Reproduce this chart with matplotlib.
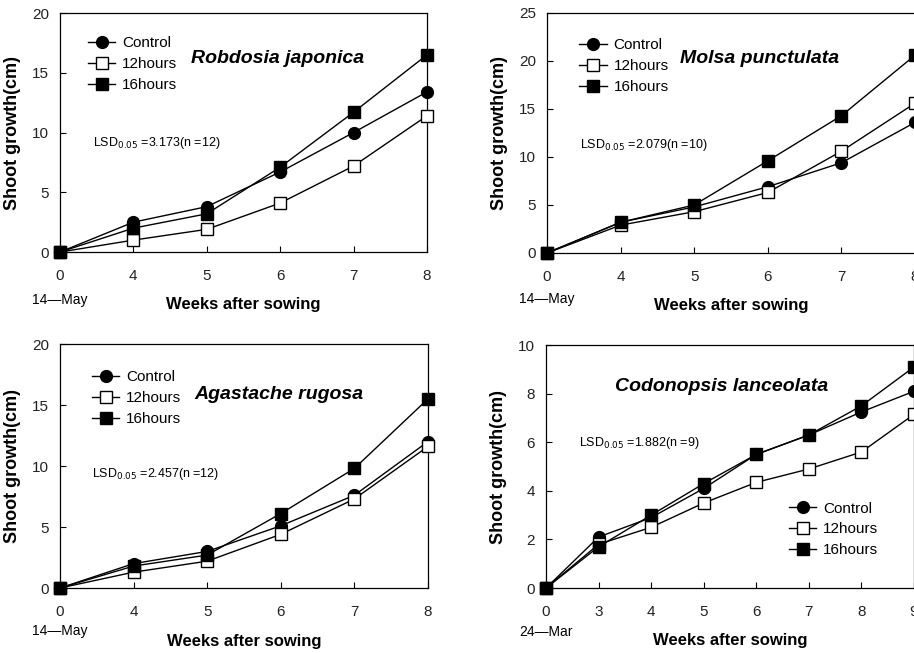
import matplotlib.pyplot as plt

plt.rcParams['font.family'] = ['Liberation Sans', 'DejaVu Sans']

# panel 1: Robdosia japonica
weeks_a = ['0', '4', '5', '6', '7', '8']
rj_control = [0, 2.5, 3.8, 6.7, 10.0, 13.4]
rj_12h = [0, 1.0, 1.9, 4.1, 7.2, 11.4]
rj_16h = [0, 2.0, 3.2, 7.1, 11.7, 16.5]

# panel 2: Molsa punctulata
mp_control = [0, 3.2, 4.8, 6.9, 9.4, 13.6]
mp_12h = [0, 2.9, 4.3, 6.3, 10.6, 15.6]
mp_16h = [0, 3.2, 5.0, 9.6, 14.3, 20.6]

# panel 3: Agastache rugosa
ar_control = [0, 2.0, 3.0, 5.1, 7.6, 12.0]
ar_12h = [0, 1.3, 2.2, 4.4, 7.3, 11.6]
ar_16h = [0, 1.8, 2.7, 6.1, 9.8, 15.5]

# panel 4: Codonopsis lanceolata
weeks_b = ['0', '3', '4', '5', '6', '7', '8', '9']
cl_control = [0, 2.1, 2.9, 4.1, 5.5, 6.3, 7.25, 8.1]
cl_12h = [0, 1.8, 2.5, 3.5, 4.35, 4.9, 5.6, 7.15]
cl_16h = [0, 1.7, 3.0, 4.3, 5.5, 6.3, 7.5, 9.1]

series_labels = ['Control', '12hours', '16hours']

panels = [
    dict(pos=[0.0656, 0.614, 0.4015, 0.366], weeks=weeks_a,
         data=[rj_control, rj_12h, rj_16h], ymax=20, ystep=5,
         title='Robdosia japonica', tpos=(0.594, 0.81),
         lsd=r'LSD$_{0.05}$ =3.173(n =12)', lpos=(0.09, 0.456),
         leg=(0.076, 0.903), date='14\u2014May', dy=-0.2),
    dict(pos=[0.5985, 0.6126, 0.4026, 0.3675], weeks=weeks_a,
         data=[mp_control, mp_12h, mp_16h], ymax=25, ystep=5,
         title='Molsa punctulata', tpos=(0.578, 0.81),
         lsd=r'LSD$_{0.05}$ =2.079(n =10)', lpos=(0.09, 0.45),
         leg=(0.087, 0.895), date='14\u2014May', dy=-0.19),
    dict(pos=[0.0656, 0.0995, 0.4026, 0.3737], weeks=weeks_a,
         data=[ar_control, ar_12h, ar_16h], ymax=20, ystep=5,
         title='Agastache rugosa', tpos=(0.594, 0.795),
         lsd=r'LSD$_{0.05}$ =2.457(n =12)', lpos=(0.087, 0.467),
         leg=(0.087, 0.893), date='14\u2014May', dy=-0.176),
    dict(pos=[0.5974, 0.0995, 0.4026, 0.372], weeks=weeks_b,
         data=[cl_control, cl_12h, cl_16h], ymax=10, ystep=2,
         title='Codonopsis lanceolata', tpos=(0.478, 0.83),
         lsd=r'LSD$_{0.05}$ =1.882(n =9)', lpos=(0.09, 0.595),
         leg=(0.66, 0.356), date='24\u2014Mar', dy=-0.18),
]

styles = [dict(marker='o', mfc='black', ms=8.5),
          dict(marker='s', mfc='white', ms=9),
          dict(marker='s', mfc='black', ms=9)]

fig = plt.figure(figsize=(9.14, 6.53), dpi=100)

for p in panels:
    ax = fig.add_axes(p['pos'])
    x = list(range(len(p['weeks'])))
    for vals, lab, st in zip(p['data'], series_labels, styles):
        ax.plot(x, vals, color='black', lw=1.0, mec='black', mew=1.0,
                label=lab, clip_on=False, zorder=3, **st)
    ax.set_xlim(0, len(x) - 1)
    ax.set_ylim(0, p['ymax'])
    ax.set_xticks(x)
    ax.set_xticklabels(p['weeks'])
    ax.set_yticks(range(0, p['ymax'] + 1, p['ystep']))
    ax.tick_params(direction='in', length=4, width=0.8, labelsize=11,
                   labelcolor='#222222')
    ax.tick_params(axis='x', pad=12)
    ax.tick_params(axis='y', pad=8)
    for s in ax.spines.values():
        s.set_linewidth(0.9)
    ax.set_ylabel('Shoot growth(cm)', fontsize=13, fontweight='bold')
    ax.yaxis.set_label_coords(-0.105, 0.5)
    ax.text(0.5, -0.218, 'Weeks after sowing', transform=ax.transAxes,
            ha='center', va='center', fontsize=12, fontweight='bold')
    ax.text(0.0, p['dy'], p['date'], transform=ax.transAxes,
            ha='center', va='center', fontsize=10)
    ax.text(p['tpos'][0], p['tpos'][1], p['title'], transform=ax.transAxes,
            ha='center', va='center', fontsize=14, fontstyle='italic',
            fontweight='bold')
    ax.text(p['lpos'][0], p['lpos'][1], p['lsd'], transform=ax.transAxes,
            ha='left', va='center', fontsize=9)
    ax.legend(frameon=False, loc='upper left', bbox_to_anchor=p['leg'],
              handlelength=1.8, handletextpad=0.45, labelspacing=0.45,
              borderpad=0, borderaxespad=0, fontsize=11)

fig.savefig('out.png', dpi=100)
